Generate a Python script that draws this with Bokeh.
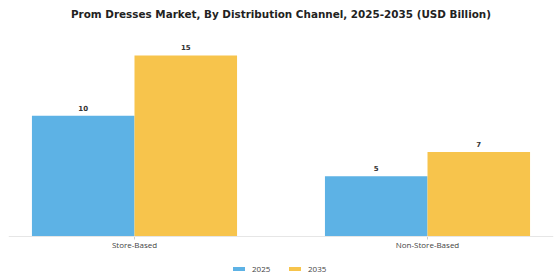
from bokeh.plotting import figure
from bokeh.models import ColumnDataSource, Range1d, Legend, LegendItem, Span
from bokeh.embed import file_html
from bokeh.resources import INLINE
from bokeh.core.properties import value

title = "Prom Dresses Market, By Distribution Channel, 2025-2035 (USD Billion)"
categories = ["Store-Based", "Non-Store-Based"]
years = ["2025", "2035"]
values_2025 = [10, 5]
values_2035 = [15, 7]
labels_2025 = ["10", "5"]
labels_2035 = ["15", "7"]

colors = {"2025": "#5DB2E5", "2035": "#F7C44C"}
bar_w = 0.35
x_lo, x_hi = -0.43, 1.43
y_lo, y_hi = -3.645, 19.55

# The frame fills the whole canvas height; the title, category axis and legend
# are all drawn inside it so their placement follows the data scales.
p = figure(width=560, height=280, output_backend="svg", toolbar_location=None,
           x_range=Range1d(x_lo, x_hi), y_range=Range1d(y_lo, y_hi),
           x_axis_location=None, y_axis_location=None,
           min_border_left=8, min_border_right=7, min_border_top=0, min_border_bottom=0)
p.background_fill_color = "white"
p.border_fill_color = "white"
p.outline_line_color = None
p.grid.visible = False

# chart title
p.text(x=[(x_lo + x_hi) / 2], y=[y_hi], text=[title], text_align="center",
       text_baseline="middle", y_offset=13, text_font=value("DejaVu Sans"),
       text_font_size="10.4px", text_font_style="bold", text_color="#222222")

idx = list(range(len(categories)))
src_a = ColumnDataSource(dict(x=[i - bar_w / 2 for i in idx], top=values_2025, lab=labels_2025))
src_b = ColumnDataSource(dict(x=[i + bar_w / 2 for i in idx], top=values_2035, lab=labels_2035))

ra = p.vbar(x="x", top="top", width=bar_w, source=src_a, fill_color=colors["2025"], line_color=None)
rb = p.vbar(x="x", top="top", width=bar_w, source=src_b, fill_color=colors["2035"], line_color=None)

# value labels above the bars
for src in (src_a, src_b):
    p.text(x="x", y="top", text="lab", source=src, text_align="center", text_baseline="bottom",
           y_offset=-5, text_font=value("DejaVu Sans"), text_font_size="7px",
           text_font_style="bold", text_color="#333333")

# category axis: baseline, ticks and labels
p.add_layout(Span(location=0, dimension="width", line_color="#E6E6E6", line_width=1))
cat_src = ColumnDataSource(dict(x=idx, y=[0] * len(idx), name=categories))
p.segment(x0="x", y0="y", x1="x", y1=-0.25, source=cat_src, line_color="#CCCCCC", line_width=1)
p.text(x="x", y="y", text="name", source=cat_src, text_align="center", text_baseline="middle",
       y_offset=8, text_font=value("Open Sans"), text_font_size="8px", text_color="#444444")

legend = Legend(items=[LegendItem(label=years[0], renderers=[ra]),
                       LegendItem(label=years[1], renderers=[rb])],
                orientation="horizontal", location=(223, 6),
                label_text_font="Open Sans", label_text_font_size="8px",
                label_text_color="#444444", glyph_width=15, glyph_height=5,
                label_standoff=6, spacing=15, border_line_color=None,
                background_fill_alpha=0, margin=0, padding=4)
p.add_layout(legend)

open("out.html", "w").write(file_html(p, INLINE))
